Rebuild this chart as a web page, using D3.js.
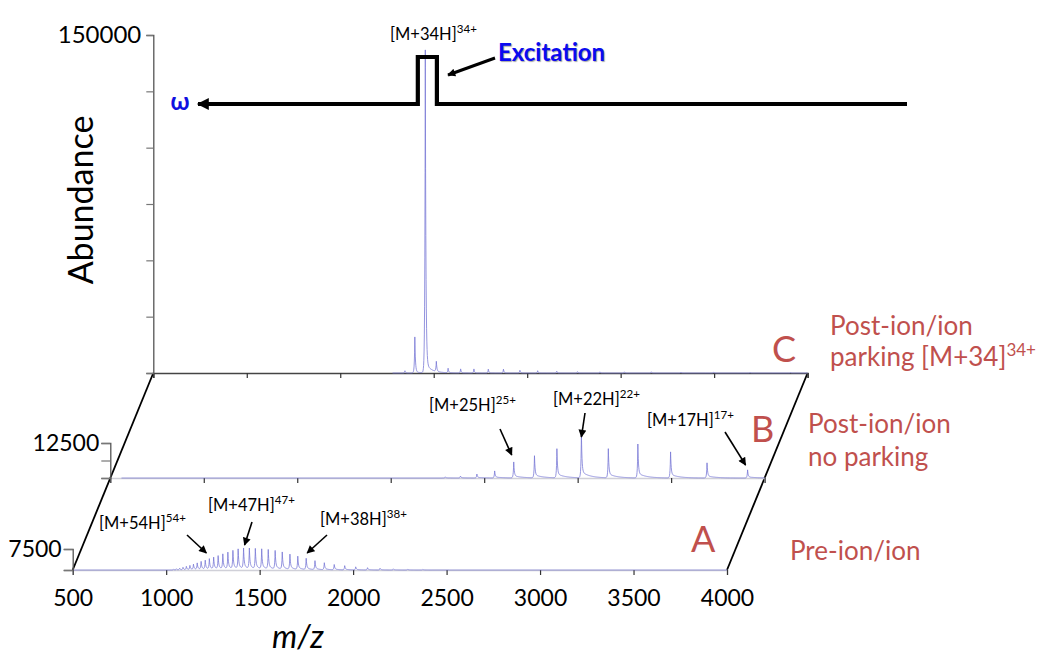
<!DOCTYPE html>
<html><head><meta charset="utf-8">
<script src="https://cdn.jsdelivr.net/npm/d3@7"></script>
<style>
body{margin:0;background:#fff}
svg{display:block}
text{font-family:Lato,"Open Sans",sans-serif}
</style>
</head><body>
<svg id="chart" width="1050" height="666"></svg>
<script>
// ---------- data ----------
const mzTicks = [500,1000,1500,2000,2500,3000,3500,4000];
const yTicksC = [0,25000,50000,75000,100000,125000,150000];
const yTicksB = [0,6250,12500];
const yTicksA = [0,7500];

// Panel A : Pre-ion/ion (charge states 64+ .. 28+)
const mzA = [1039,1055,1072,1090,1108,1127,1146,1166,1187,1209,1231,1254,1278,1303,1330,1357,1385,1414,1445,1477,1511,1546,1583,1621,1662,1704,1749,1796,1846,1899,1955,2014,2077,2144,2215,2292,2373];
const abA = [300,400,600,900,1200,1500,1900,2300,2800,3200,3700,4200,4700,5300,5900,6500,7000,7300,7300,7200,7100,6900,6600,6100,5400,4700,4000,3200,2500,1900,1500,1100,800,600,400,300,200];

// Panel B : Post-ion/ion, no parking (29+ .. 17+)
const mzB = [2292,2373,2461,2556,2658,2769,2889,3020,3164,3322,3497,3692,3909];
const abB = [400,700,1400,2500,5700,7900,10400,16000,10400,12100,9300,5400,2900];

// Panel C : Post-ion/ion parking [M+34H]34+ (36+ .. 17+)
const mzC = [1846,1899,1955,2014,2077,2144,2215,2292,2373,2461,2556,2658,2769,2889,3020,3164,3322,3497,3692,3909];
const abC = [1000,16000,143300,4500,2000,1800,1800,1700,1700,1200,1000,800,600,500,500,500,400,400,300,200];

const annB = [
  {t:"[M+25H]", s:"25+", mz:2658},
  {t:"[M+22H]", s:"22+", mz:3020},
  {t:"[M+17H]", s:"17+", mz:3909}
];
const annA = [
  {t:"[M+54H]", s:"54+", mz:1231},
  {t:"[M+47H]", s:"47+", mz:1414},
  {t:"[M+38H]", s:"38+", mz:1749}
];

// ---------- layout ----------
const svg = d3.select("#chart");
const RED = "#c0504d", TRACE = "#7878d6";

const P = {
  A:{x0:72.7, x1:727, y0:570, ytop:549, dom:[0,7500]},
  B:{x0:110.3, x1:764.6, y0:478, ytop:443, dom:[0,12500]},
  C:{x0:153.3, x1:807.6, y0:373, ytop:35, dom:[0,150000]}
};
const xA = d3.scaleLinear().domain([500,4000]).range([P.A.x0,P.A.x1]);
const xB = d3.scaleLinear().domain([500,4000]).range([P.B.x0,P.B.x1]);
const xC = d3.scaleLinear().domain([500,4000]).range([P.C.x0,P.C.x1]);
const yA = d3.scaleLinear().domain(P.A.dom).range([P.A.y0,P.A.ytop]);
const yB = d3.scaleLinear().domain(P.B.dom).range([P.B.y0,P.B.ytop]);
const yC = d3.scaleLinear().domain(P.C.dom).range([P.C.y0,P.C.ytop]);

const defs = svg.append("defs");
function marker(id, w, h){
  defs.append("marker").attr("id",id).attr("viewBox","0 0 10 10")
    .attr("refX",9).attr("refY",5).attr("markerWidth",w).attr("markerHeight",h)
    .attr("markerUnits","userSpaceOnUse").attr("orient","auto")
    .append("path").attr("d","M0,0 L10,5 L0,10 Z").attr("fill","#000");
}
marker("ah",9,8);
marker("ahBig",14,12);

// parallelogram side lines
svg.append("line").attr("x1",xA(500)).attr("y1",P.A.y0).attr("x2",xC(500)).attr("y2",P.C.y0)
  .attr("stroke","#000").attr("stroke-width",1.8);
svg.append("line").attr("x1",xA(4000)).attr("y1",P.A.y0).attr("x2",xC(4000)).attr("y2",P.C.y0)
  .attr("stroke","#000").attr("stroke-width",1.8);

// spectra
function trace(mz, ab, xs, ys, f, tau, start, end){
  const pxs = mz.map(m=>xs(m));
  const samples = [];
  for(let p=xs(start); p<=xs(end); p+=0.25) samples.push(p);
  pxs.forEach(p=>samples.push(p));
  samples.sort((a,b)=>a-b);
  const pts = samples.map(p=>{
    let v=0;
    pxs.forEach((c,i)=>{
      const d=p-c;
      if(d<0) v+=ab[i]*Math.exp(d/0.45);
      else v+=ab[i]*((1-f)*Math.exp(-d/0.6)+f*Math.exp(-d/tau));
    });
    return [xs.invert(p), v];
  });
  return d3.line().x(d=>xs(d[0])).y(d=>ys(d[1]))(pts);
}

// x axes
function xAxis(xs, y, color, labels){
  const ax = d3.axisBottom(xs).tickValues(mzTicks).tickSize(5).tickPadding(15)
    .tickFormat(labels? d3.format("d") : "");
  const g = svg.append("g").attr("transform",`translate(0,${y})`).call(ax);
  g.select(".domain").attr("stroke",color).attr("stroke-width",1.5);
  g.selectAll(".tick line").attr("stroke","#333").attr("stroke-width",1.2);
  g.selectAll(".tick text").attr("font-size",23).attr("fill","#000")
    .attr("font-family","Lato, sans-serif");
  return g;
}
xAxis(xA, P.A.y0, "#d0d0d8", true);
xAxis(xB, P.B.y0, "#d0d0d8", false);
xAxis(xC, P.C.y0, "#444", false);

svg.append("path").attr("d",trace(mzA,abA,xA,yA,0.16,5,500,4000))
  .attr("fill","none").attr("stroke",TRACE).attr("stroke-width",0.8);
svg.append("path").attr("d",trace(mzB,abB,xB,yB,0.14,8,560,4000))
  .attr("fill","none").attr("stroke",TRACE).attr("stroke-width",0.8);
svg.append("path").attr("d",trace(mzC,abC,xC,yC,0.03,6,1780,4000))
  .attr("fill","none").attr("stroke",TRACE).attr("stroke-width",0.8);

// y axes
function yAxis(ys, x, ticks, size, pad, labelVal, fs){
  const ax = d3.axisLeft(ys).tickValues(ticks).tickSize(size).tickPadding(pad)
    .tickFormat(d=> d===labelVal ? String(d) : "");
  const g = svg.append("g").attr("transform",`translate(${x},0)`).call(ax);
  g.select(".domain").attr("stroke","#555").attr("stroke-width",1.3);
  g.selectAll(".tick line").attr("stroke","#777").attr("stroke-width",1.2);
  g.selectAll(".tick text").attr("font-size",fs).attr("fill","#000")
    .attr("font-family","Lato, sans-serif");
  return g;
}
yAxis(yC, P.C.x0, yTicksC, 7, 5, 150000, 24);
yAxis(yB, P.B.x0, yTicksB, 9, 2, 12500, 23);
yAxis(yA, P.A.x0, yTicksA, 9, 2, 7500, 23);

// axis titles
svg.append("text").attr("transform","translate(93,200) rotate(-90)")
  .attr("text-anchor","middle").attr("font-size",34).text("Abundance");
svg.append("text").attr("x",298).attr("y",648).attr("text-anchor","middle")
  .attr("font-size",32).attr("font-style","italic").text("m/z");

// annotations with superscripts
function label(x, y, t, s, fs){
  const tx = svg.append("text").attr("x",x).attr("y",y).attr("font-size",fs).attr("fill","#000");
  tx.append("tspan").text(t);
  tx.append("tspan").attr("dy",-fs*0.42).attr("font-size",fs*0.7).text(s);
  return tx;
}
function arrow(x1,y1,x2,y2){
  svg.append("line").attr("x1",x1).attr("y1",y1).attr("x2",x2).attr("y2",y2)
    .attr("stroke","#000").attr("stroke-width",1.6).attr("marker-end","url(#ah)");
}
// B annotations
label(429,411,annB[0].t,annB[0].s,16.5);
arrow(500,429,xB(annB[0].mz)-2,455);
label(553,405,annB[1].t,annB[1].s,16.5);
arrow(585,413,xB(annB[1].mz),437);
label(647,426,annB[2].t,annB[2].s,16.5);
arrow(725,432,xB(annB[2].mz)-2,465);
// A annotations
label(99,529,annA[0].t,annA[0].s,16.5);
arrow(187,535,xA(annA[0].mz)-3,553);
label(208,511,annA[1].t,annA[1].s,16.5);
arrow(252,522,xA(annA[1].mz)+1,545);
label(320,525,annA[2].t,annA[2].s,16.5);
arrow(327,535,xA(annA[2].mz)+1,553);
// C annotation
label(390,40,"[M+34H]","34+",16.5);

// excitation waveform
const mzBox = [1915,2017];
const exY = 104, exTop = 57;
svg.append("path")
  .attr("d",`M907,${exY} H${xC(mzBox[1])} V${exTop} H${xC(mzBox[0])} V${exY} H198`)
  .attr("fill","none").attr("stroke","#000").attr("stroke-width",4.2)
  .attr("stroke-linejoin","miter").attr("marker-end","url(#ahBig)");
svg.append("text").attr("x",180).attr("y",110).attr("text-anchor","middle")
  .attr("font-size",24).attr("font-weight","bold").attr("fill","#1010e0").text("ω");
svg.append("text").attr("x",498).attr("y",61).attr("font-size",24)
  .attr("font-weight","bold").attr("fill","#0a0af0")
  .style("text-shadow","1px 1px 1px rgba(0,0,0,0.35)").text("Excitation");
svg.append("line").attr("x1",495).attr("y1",58).attr("x2",448).attr("y2",75)
  .attr("stroke","#000").attr("stroke-width",3).attr("marker-end","url(#ah)");

// panel letters & descriptions
function red(x,y,t,fs){ return svg.append("text").attr("x",x).attr("y",y).attr("font-size",fs).attr("fill",RED).text(t); }
red(772,362,"C",36);
red(751,442,"B",36);
red(691,552,"A",36);
red(830,335,"Post-ion/ion",26);
const pk = svg.append("text").attr("x",830).attr("y",366).attr("font-size",26).attr("fill",RED);
pk.append("tspan").text("parking [M+34]");
pk.append("tspan").attr("dy",-10).attr("font-size",17).text("34+");
red(808,433,"Post-ion/ion",26);
red(808,466,"no parking",26);
red(790,560,"Pre-ion/ion",26);
</script>
</body></html>
